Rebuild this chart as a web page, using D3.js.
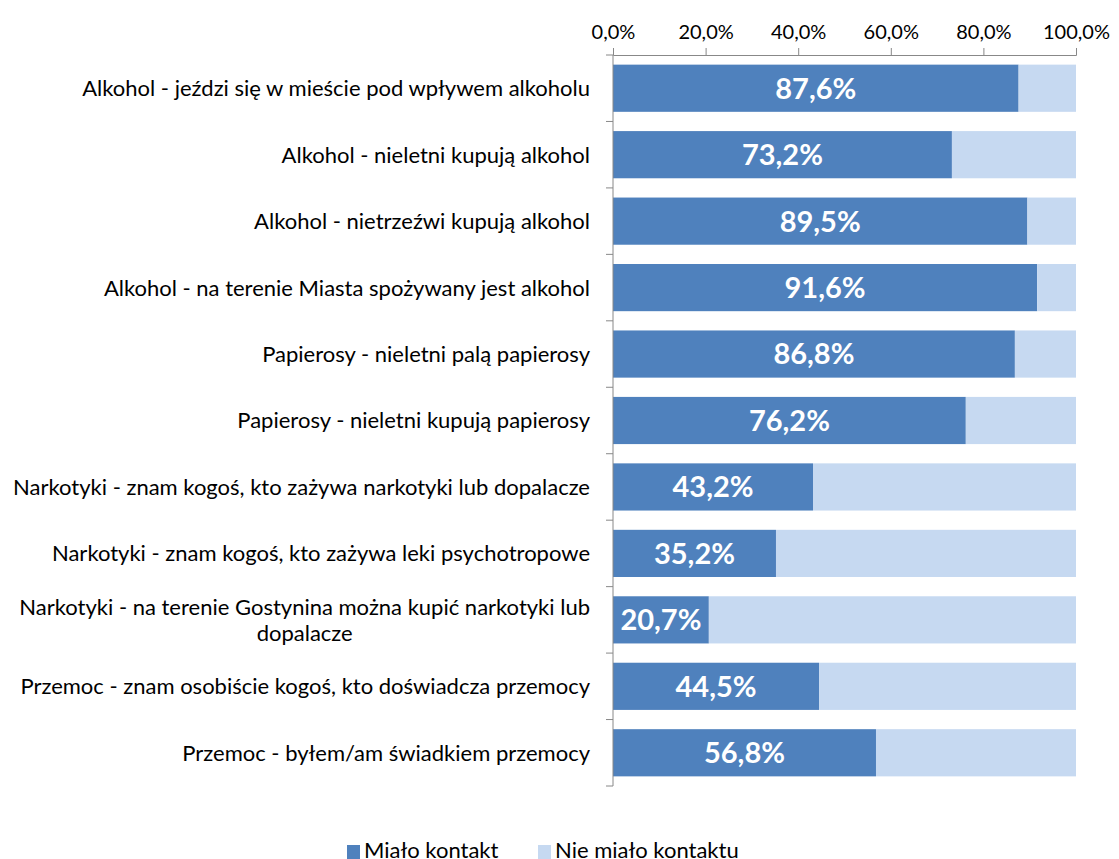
<!DOCTYPE html>
<html><head><meta charset="utf-8">
<script src="https://cdn.jsdelivr.net/npm/d3@7"></script>
<style>body{margin:0;background:#fff}svg{display:block}text{font-family:Lato,sans-serif}</style>
</head><body><svg id="c" width="1119" height="859"></svg>
<script>
const categories = [
  "Alkohol - jeździ się w mieście pod wpływem alkoholu",
  "Alkohol - nieletni kupują alkohol",
  "Alkohol - nietrzeźwi kupują alkohol",
  "Alkohol - na terenie Miasta spożywany jest alkohol",
  "Papierosy - nieletni palą papierosy",
  "Papierosy - nieletni kupują papierosy",
  "Narkotyki - znam kogoś, kto zażywa narkotyki lub dopalacze",
  "Narkotyki - znam kogoś, kto zażywa leki psychotropowe",
  "Narkotyki - na terenie Gostynina można kupić narkotyki lub|dopalacze",
  "Przemoc - znam osobiście kogoś, kto doświadcza przemocy",
  "Przemoc - byłem/am świadkiem przemocy"
];
const hadContact = [87.6, 73.2, 89.5, 91.6, 86.8, 76.2, 43.2, 35.2, 20.7, 44.5, 56.8];
const noContact  = [12.4, 26.8, 10.5, 8.4, 13.2, 23.8, 56.8, 64.8, 79.3, 55.5, 43.2];
const seriesNames = ["Miało kontakt", "Nie miało kontaktu"];
const tickValues = [0, 20, 40, 60, 80, 100];

(function(){
const colors = ["#4F81BD", "#C6D9F1"];
const svg = d3.select("#c");
const L = 613, R = 1076, T = 55, B = 786;
const x = d3.scaleLinear().domain([0, 100]).range([L, R]);
const y = d3.scaleBand().domain(categories).range([T, B]).paddingInner(0.29).paddingOuter(0.145);
const fmt = v => v.toFixed(1).replace(".", ",") + "%";

const rows = categories.map((c, i) => ({c, a: hadContact[i], b: noContact[i]}));
const g = svg.append("g");
g.selectAll("rect.a").data(rows).join("rect").attr("class","a")
  .attr("x", x(0)).attr("y", d => y(d.c)).attr("width", d => x(d.a) - x(0)).attr("height", y.bandwidth()).attr("fill", colors[0]);
g.selectAll("rect.b").data(rows).join("rect").attr("class","b")
  .attr("x", d => x(d.a)).attr("y", d => y(d.c)).attr("width", d => x(d.a + d.b) - x(d.a)).attr("height", y.bandwidth()).attr("fill", colors[1]);
g.selectAll("text.v").data(rows).join("text").attr("class","v")
  .attr("x", d => (x(0) + x(d.a)) / 2).attr("y", d => y(d.c) + y.bandwidth()/2).attr("dy", "0.36em")
  .attr("text-anchor", "middle").attr("fill", "#fff").attr("font-weight", "bold").attr("font-size", 29)
  .text(d => fmt(d.a));

const xa = svg.append("g").attr("transform", `translate(0,${T})`)
  .call(d3.axisTop(x).tickValues(tickValues).tickSize(7).tickFormat(d => d.toFixed(1).replace(".", ",") + "%"));
xa.select(".domain").attr("stroke", "#888");
xa.selectAll(".tick line").attr("stroke", "#888");
xa.selectAll(".tick text").attr("font-size", 20).attr("fill", "#000").attr("font-family", "Lato").attr("dy", "-0.3em");

const ya = svg.append("g");
ya.append("line").attr("x1", L).attr("x2", L).attr("y1", T).attr("y2", B).attr("stroke", "#888");
const bounds = d3.range(categories.length + 1).map(i => T + i * (B - T) / categories.length);
ya.selectAll("line.t").data(bounds).join("line").attr("class","t")
  .attr("x1", L - 7).attr("x2", L).attr("y1", d => d).attr("y2", d => d).attr("stroke", "#888");

const lab = ya.selectAll("text.l").data(rows).join("text").attr("class","l")
  .attr("font-size", 22).attr("fill", "#000").attr("text-anchor", "end");
lab.each(function(d){
  const lines = d.c.split("|");
  const t = d3.select(this);
  const cy = y(d.c) + y.bandwidth()/2;
  const lh = 26;
  const y0 = cy - (lines.length - 1) * lh / 2;
  const first = t.append("tspan").attr("x", 590).attr("y", y0).attr("dy", "0.36em").text(lines[0]);
  if (lines.length > 1) {
    const w = first.node().getComputedTextLength();
    lines.slice(1).forEach((ln, k) => {
      t.append("tspan").attr("x", 590 - w/2).attr("text-anchor", "middle").attr("y", y0 + (k+1)*lh).attr("dy", "0.36em").text(ln);
    });
  }
});

const leg = svg.append("g");
const legX = [347, 538];
seriesNames.forEach((n, i) => {
  leg.append("rect").attr("x", legX[i]).attr("y", 845).attr("width", 13).attr("height", 14).attr("fill", colors[i]);
  leg.append("text").attr("x", legX[i] + 17).attr("y", 850).attr("dy", "0.36em").attr("font-size", 22).text(n);
});
})();
</script></body></html>
